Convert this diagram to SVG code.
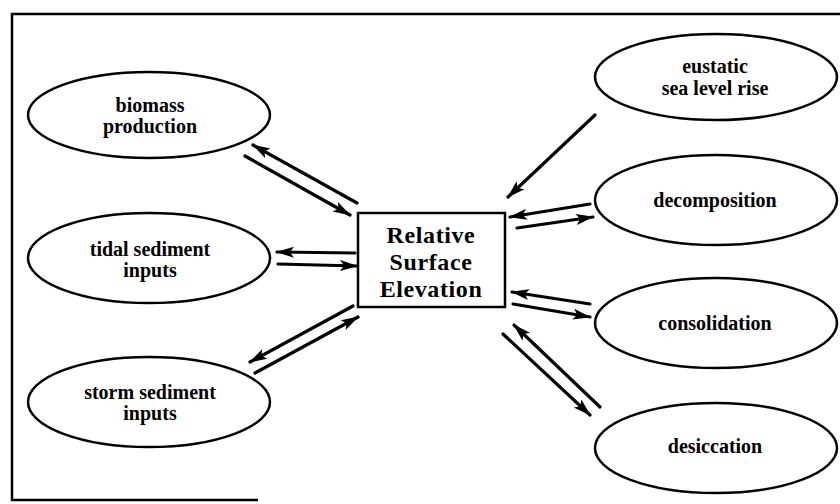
<svg xmlns="http://www.w3.org/2000/svg" width="840" height="504" viewBox="0 0 840 504">
<style>
.frame{fill:none;stroke:#000;stroke-width:2.5}
.node ellipse{fill:#fff;stroke:#000;stroke-width:2.5}
.node rect{fill:#fff;stroke:#000;stroke-width:2.5}
.lbl{font-family:"Liberation Serif","Times New Roman",serif;font-weight:bold;font-size:20px;fill:#000;text-anchor:middle}
.big{font-size:24px;letter-spacing:0.6px}
.conn line{stroke:#000;stroke-width:3.2;stroke-linecap:round;marker-end:url(#ah)}
</style>
<defs>
<marker id="ah" markerUnits="userSpaceOnUse" markerWidth="20" markerHeight="12" refX="17" refY="5.5" orient="auto">
<path d="M0,0 L18,5.5 L0,11 L4,5.5 z" fill="#000"/>
</marker>
</defs>
<rect width="840" height="504" fill="#fff"/>
<path class="frame" d="M845,14 L12,14 L12,500 L258,500"/>
<g id="biomass" class="node"><ellipse cx="149" cy="115" rx="121" ry="43"/><text class="lbl" x="150" y="112">biomass</text><text class="lbl" x="150" y="133">production</text></g>
<g id="tidal" class="node"><ellipse cx="149" cy="258" rx="121" ry="45"/><text class="lbl" x="150" y="256">tidal sediment</text><text class="lbl" x="150" y="277">inputs</text></g>
<g id="storm" class="node"><ellipse cx="149" cy="402" rx="121" ry="45"/><text class="lbl" x="150" y="399">storm sediment</text><text class="lbl" x="150" y="420">inputs</text></g>
<g id="elevation" class="node"><rect x="358" y="213" width="147" height="94"/><text class="lbl big" x="431" y="243">Relative</text><text class="lbl big" x="431" y="270">Surface</text><text class="lbl big" x="431" y="297">Elevation</text></g>
<g id="eustatic" class="node"><ellipse cx="716" cy="77" rx="121" ry="43"/><text class="lbl" x="715" y="73">eustatic</text><text class="lbl" x="715" y="95">sea level rise</text></g>
<g id="decomposition" class="node"><ellipse cx="716" cy="200" rx="121" ry="45"/><text class="lbl" x="715" y="207">decomposition</text></g>
<g id="consolidation" class="node"><ellipse cx="716" cy="323" rx="121" ry="45"/><text class="lbl" x="715" y="330">consolidation</text></g>
<g id="desiccation" class="node"><ellipse cx="716" cy="448" rx="121" ry="45"/><text class="lbl" x="715" y="453">desiccation</text></g>
<g id="connectors" class="conn">
<line x1="357" y1="203" x2="253" y2="145"/>
<line x1="245" y1="156" x2="350" y2="215"/>
<line x1="355" y1="253" x2="277" y2="252"/>
<line x1="278" y1="264" x2="357" y2="266"/>
<line x1="353" y1="306" x2="250" y2="362"/>
<line x1="255" y1="373" x2="358" y2="317"/>
<line x1="595" y1="115" x2="508" y2="197"/>
<line x1="590" y1="204" x2="510" y2="217"/>
<line x1="517" y1="228" x2="593" y2="217"/>
<line x1="590" y1="304" x2="512" y2="292"/>
<line x1="513" y1="304" x2="590" y2="317"/>
<line x1="600" y1="407" x2="514" y2="325"/>
<line x1="503" y1="334" x2="590" y2="415"/>
</g>
</svg>
